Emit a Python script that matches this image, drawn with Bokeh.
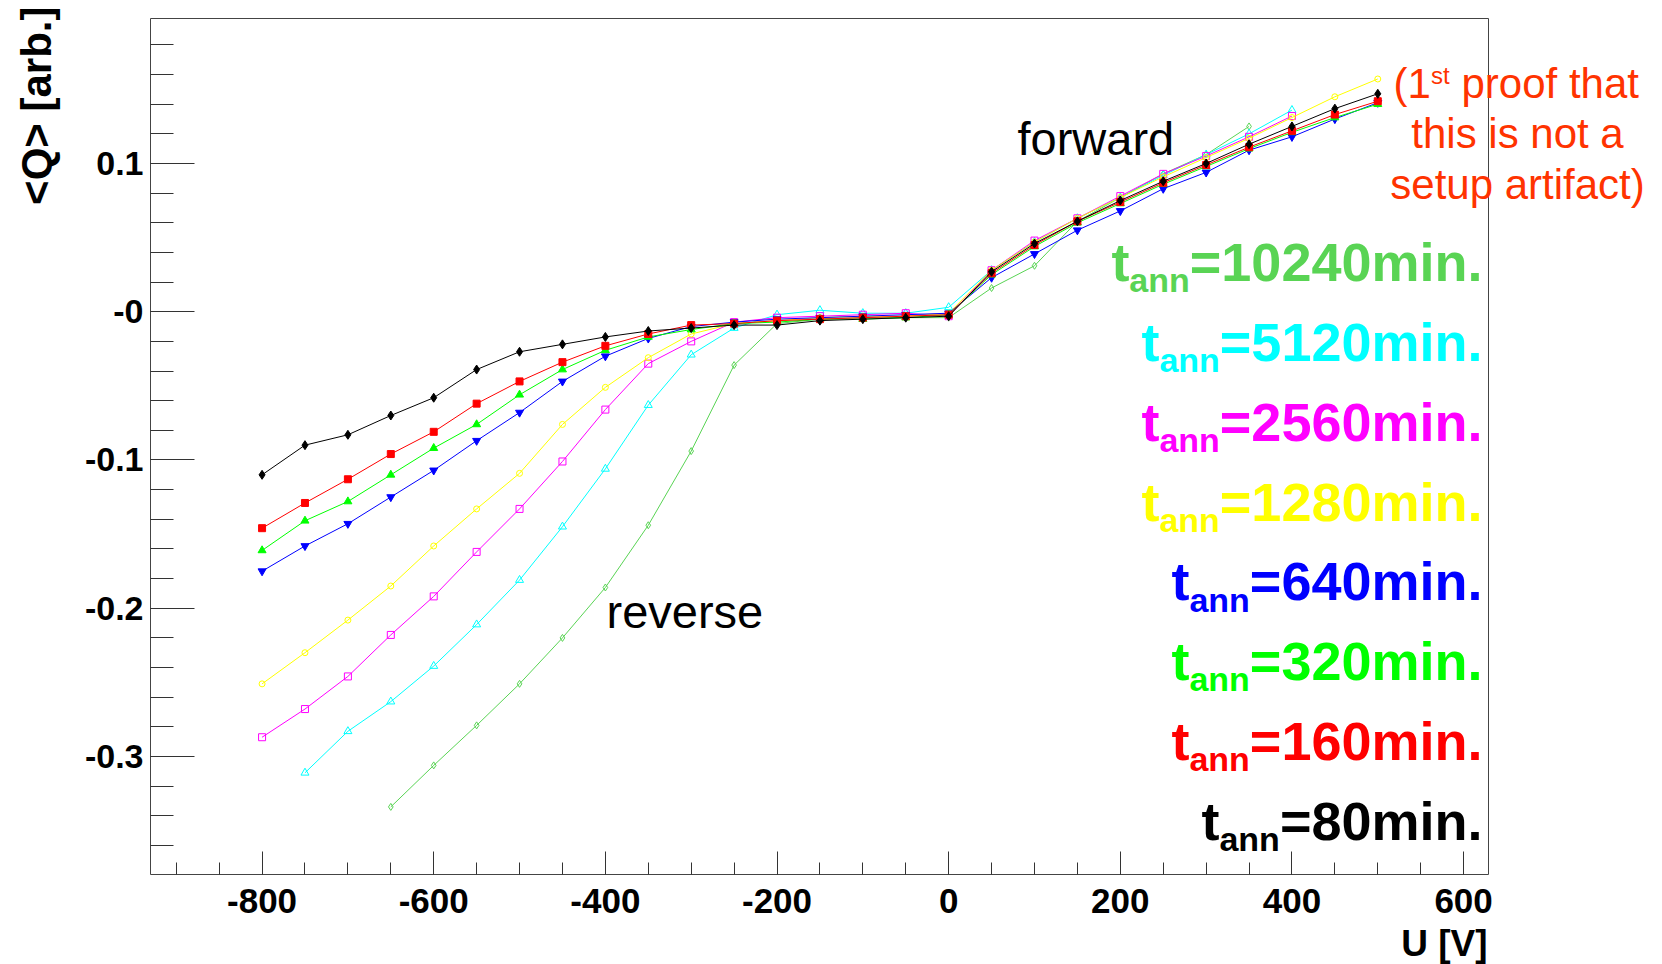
import math
from bokeh.plotting import figure
from bokeh.models import Range1d, FixedTicker, Label, CustomJSTickFormatter
from bokeh.embed import file_html
from bokeh.resources import INLINE

# ---------------- data ----------------
U_80 = [-800, -750, -700, -650, -600, -550, -500, -450, -400, -350, -300, -250, -200, -150, -100, -50, 0,
        50, 100, 150, 200, 250, 300, 350, 400, 450, 500]
Q_80 = [-0.110, -0.090, -0.083, -0.070, -0.058, -0.039, -0.027, -0.022, -0.017, -0.013, -0.011, -0.009,
        -0.009, -0.006, -0.005, -0.004, -0.003,
        0.027, 0.046, 0.061, 0.075, 0.088, 0.100, 0.113, 0.125, 0.137, 0.147]

U_160 = [-800, -750, -700, -650, -600, -550, -500, -450, -400, -350, -300, -250, -200, -150, -100, -50, 0,
         50, 100, 150, 200, 250, 300, 350, 400, 450, 500]
Q_160 = [-0.146, -0.129, -0.113, -0.096, -0.081, -0.062, -0.047, -0.034, -0.023, -0.015, -0.009, -0.008,
         -0.006, -0.005, -0.004, -0.003, -0.002,
         0.026, 0.045, 0.061, 0.074, 0.087, 0.099, 0.111, 0.122, 0.133, 0.142]

U_320 = [-800, -750, -700, -650, -600, -550, -500, -450, -400, -350, -300, -250, -200, -150, -100, -50, 0,
         50, 100, 150, 200, 250, 300, 350, 400, 450, 500]
Q_320 = [-0.161, -0.141, -0.128, -0.110, -0.092, -0.076, -0.056, -0.039, -0.026, -0.017, -0.012, -0.008,
         -0.007, -0.005, -0.005, -0.004, -0.002,
         0.025, 0.044, 0.060, 0.073, 0.086, 0.098, 0.110, 0.121, 0.131, 0.140]

U_640 = [-800, -750, -700, -650, -600, -550, -500, -450, -400, -350, -300, -250, -200, -150, -100, -50, 0,
         50, 100, 150, 200, 250, 300, 350, 400, 450, 500]
Q_640 = [-0.175, -0.158, -0.143, -0.125, -0.107, -0.087, -0.068, -0.047, -0.030, -0.018, -0.010, -0.007,
         -0.005, -0.004, -0.003, -0.002, -0.001,
         0.023, 0.039, 0.055, 0.068, 0.083, 0.094, 0.109, 0.118, 0.130, 0.141]

U_1280 = [-800, -750, -700, -650, -600, -550, -500, -450, -400, -350, -300, -250, -200, -150, -100, -50, 0,
          50, 100, 150, 200, 250, 300, 350, 400, 450, 500]
Q_1280 = [-0.251, -0.230, -0.208, -0.185, -0.158, -0.133, -0.109, -0.076, -0.051, -0.031, -0.015, -0.008,
          -0.006, -0.004, -0.003, -0.003, -0.001,
          0.028, 0.047, 0.063, 0.077, 0.091, 0.104, 0.117, 0.131, 0.145, 0.157]

U_2560 = [-800, -750, -700, -650, -600, -550, -500, -450, -400, -350, -300, -250, -200, -150, -100, -50, 0,
          50, 100, 150, 200, 250, 300, 350, 400]
Q_2560 = [-0.287, -0.268, -0.246, -0.218, -0.192, -0.162, -0.133, -0.101, -0.066, -0.035, -0.020, -0.007,
          -0.004, -0.003, -0.002, -0.001, -0.003,
          0.028, 0.048, 0.063, 0.078, 0.093, 0.105, 0.118, 0.132]

U_5120 = [-750, -700, -650, -600, -550, -500, -450, -400, -350, -300, -250, -200, -150, -100, -50, 0,
          50, 100, 150, 200, 250, 300, 350, 400]
Q_5120 = [-0.311, -0.283, -0.263, -0.239, -0.211, -0.181, -0.145, -0.106, -0.063, -0.029, -0.011,
          -0.002, 0.001, -0.001, -0.001, 0.003,
          0.028, 0.047, 0.063, 0.077, 0.092, 0.106, 0.120, 0.136]

U_10240 = [-650, -600, -550, -500, -450, -400, -350, -300, -250, -200, -150, -100, -50, 0,
           50, 100, 150, 200, 250, 300, 350]
Q_10240 = [-0.334, -0.306, -0.279, -0.251, -0.220, -0.186, -0.144, -0.094, -0.036,
           -0.008, -0.005, -0.004, -0.004, -0.004,
           0.016, 0.031, 0.061, 0.077, 0.093, 0.106, 0.125]

ANNEAL_LABELS = ["10240", "5120", "2560", "1280", "640", "320", "160", "80"]
X_TICKS = [-800, -600, -400, -200, 0, 200, 400, 600]
Y_TICKS = [-0.3, -0.2, -0.1, 0.0, 0.1]

# ---------------- layout ----------------
W, H = 1662, 964
FL, FR, FT, FB = 150, 1488, 18, 874          # plot box in pixels
X0, X1 = -930.0, 629.0                        # data range of the plot box
Y0, Y1 = -0.3796, 0.1978

KX = (X1 - X0) / (FR - FL)
KY = (Y1 - Y0) / (FB - FT)
XA, XB = X0 - FL * KX, X0 + (W - FL) * KX     # whole-canvas ranges
YT, YB = Y1 + FT * KY, Y1 - (H - FT) * KY


def sx(px):
    return X0 + (px - FL) * KX


def sy(py):
    return Y1 - (py - FT) * KY


FONT = "Liberation Sans"

p = figure(width=W, height=H, output_backend="svg", toolbar_location=None,
           x_range=Range1d(XA, XB), y_range=Range1d(YB, YT),
           min_border=0, min_border_left=0, min_border_right=0, min_border_top=0, min_border_bottom=0)
p.xgrid.visible = False
p.ygrid.visible = False
p.background_fill_color = "white"
p.border_fill_color = "white"
p.outline_line_color = None

p.xaxis.fixed_location = Y0
p.yaxis.fixed_location = X0
p.xaxis.bounds = (X0, X1)
p.yaxis.bounds = (Y0, Y1)

p.xaxis.ticker = FixedTicker(ticks=X_TICKS, minor_ticks=list(range(-900, 601, 50)))
p.yaxis.ticker = FixedTicker(ticks=Y_TICKS, minor_ticks=[round(-0.36 + 0.02 * i, 2) for i in range(28)])
p.xaxis.formatter = CustomJSTickFormatter(code="return tick.toFixed(0);")
p.yaxis.formatter = CustomJSTickFormatter(code="return Math.abs(tick) < 1e-9 ? '-0' : tick.toFixed(1);")

for ax in (p.xaxis[0], p.yaxis[0]):
    ax.axis_line_color = "#444444"
    ax.major_tick_line_color = "#333333"
    ax.minor_tick_line_color = "#333333"
    ax.major_tick_out = 0
    ax.minor_tick_out = 0
    ax.major_label_text_font = FONT
    ax.major_label_text_font_style = "bold"
    ax.major_label_text_color = "black"

p.xaxis.major_tick_in = 23
p.xaxis.minor_tick_in = 12
p.xaxis.major_label_text_font_size = "35px"
p.xaxis.major_label_standoff = 14
p.yaxis.major_tick_in = 44
p.yaxis.minor_tick_in = 23
p.yaxis.major_label_text_font_size = "34px"
p.yaxis.major_label_standoff = 7

# top and right edges of the plot box
p.segment(x0=[X0, X1], y0=[Y1, Y0], x1=[X1, X1], y1=[Y1, Y1], line_color="#444444", line_width=1)

# ---------------- series ----------------
series = [
    (U_10240, Q_10240, "#59d454", "diamond", 7, False),
    (U_5120, Q_5120, "#00ffff", "triangle", 8, False),
    (U_2560, Q_2560, "#ff00ff", "square", 7, False),
    (U_1280, Q_1280, "#ffff00", "circle", 6, False),
    (U_640, Q_640, "#0000ff", "inverted_triangle", 8, True),
    (U_320, Q_320, "#00ff00", "triangle", 8, True),
    (U_160, Q_160, "#ff0000", "square", 7, True),
    (U_80, Q_80, "#000000", "diamond", 9, True),
]
for u, q, col, mk, sz, filled in series:
    p.line(u, q, line_color=col, line_width=1)
    p.scatter(u, q, marker=mk, size=sz, line_color=col, line_width=1,
              fill_color=col if filled else None)


# ---------------- texts ----------------
def lab(text, px, py, size, color, align="left", style="normal", baseline="alphabetic", angle=0.0):
    if baseline == "alphabetic":
        py = py - 0.33 * size
    p.add_layout(Label(x=sx(px), y=sy(py), text=text, text_font=FONT, text_font_size=f"{size}px",
                       text_color=color, text_align=align, text_baseline=baseline,
                       text_font_style=style, angle=angle))


# axis titles
lab("<Q> [arb.]", 36, 6, 42, "black", align="right", style="bold", baseline="middle", angle=math.pi / 2)
lab("U [V]", 1487, 955, 37, "black", align="right", style="bold")

# annotations
lab("forward", 1017, 154, 47, "black")
lab("reverse", 606, 627, 47, "black")

RED = "#ff3300"
lab("(1", 1393, 97, 42, RED)
lab("st", 1430.5, 83, 24, RED)
lab("proof that", 1461, 97, 42, RED)
lab("this is not a", 1517, 147, 42, RED, align="center")
lab("setup artifact)", 1517, 198, 42, RED, align="center")

# annealing-time labels
ARIAL_BOLD = {"t": 0.333, "a": 0.556, "n": 0.611, "=": 0.584, "m": 0.889, "i": 0.278, ".": 0.278}
for d in "0123456789":
    ARIAL_BOLD[d] = 0.556
MAIN, SUB = 54, 34
RIGHT = 1482
colors = ["#59d454", "#00ffff", "#ff00ff", "#ffff00", "#0000ff", "#00ff00", "#ff0000", "#000000"]
for k, (txt, col) in enumerate(zip(ANNEAL_LABELS, colors)):
    base = 279.5 + 79.8 * k
    main = "=" + txt + "min."
    wmain = sum(ARIAL_BOLD[c] for c in main) * MAIN
    wsub = sum(ARIAL_BOLD[c] for c in "ann") * SUB
    lab(main, RIGHT, base, MAIN, col, align="right", style="bold")
    lab("ann", RIGHT - wmain, base + 11.6, SUB, col, align="right", style="bold")
    lab("t", RIGHT - wmain - wsub, base, MAIN, col, align="right", style="bold")

open("out.html", "w").write(file_html(p, INLINE))
